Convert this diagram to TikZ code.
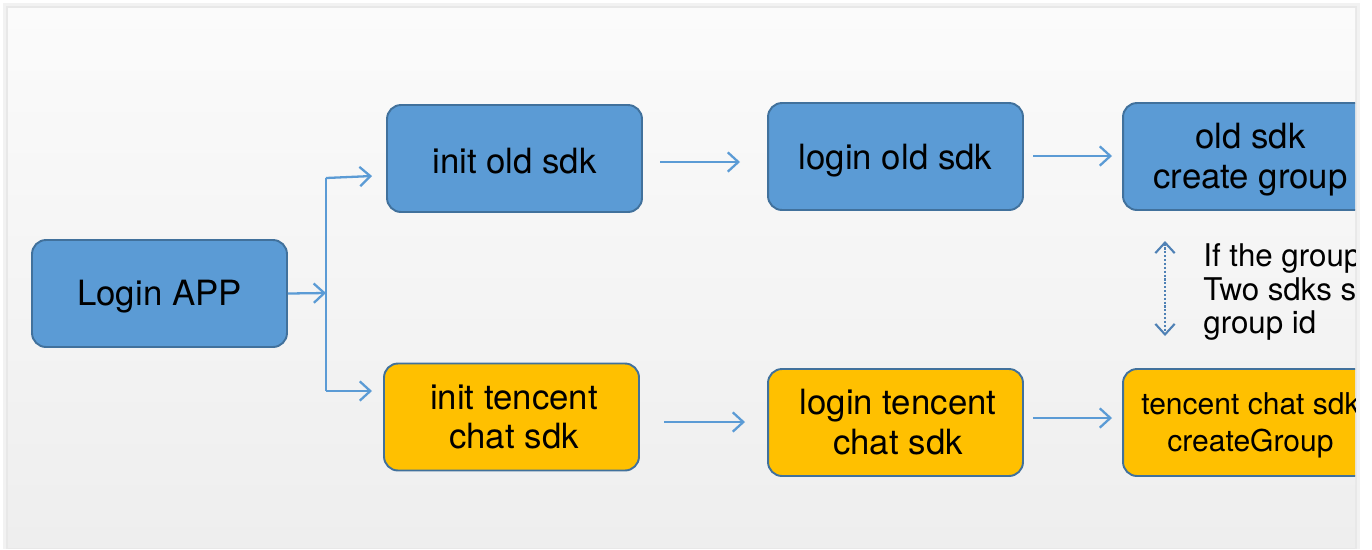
\documentclass[tikz,border=0pt]{standalone}
\usepackage{fontspec}
\setmainfont{TeX Gyre Heros}
\usetikzlibrary{arrows.meta}
\definecolor{bluefill}{HTML}{5B9BD5}
\definecolor{blueedge}{HTML}{41719C}
\definecolor{goldfill}{HTML}{FFC000}
\definecolor{arrowblue}{HTML}{5B9BD5}
\definecolor{dotblue}{HTML}{4F81B5}
\tikzset{
  box/.style={draw=blueedge, line width=1.1pt, rounded corners=0.28cm,
    minimum width=5.1cm, minimum height=2.14cm, inner sep=0pt},
  bluebox/.style={box, fill=bluefill},
  goldbox/.style={box, fill=goldfill},
  lbl/.style={align=center, inner sep=0pt, font=\fontsize{19.8}{22.7}\selectfont},
  smalllbl/.style={align=center, inner sep=0pt, font=\fontsize{17.1}{21}\selectfont},
  tip/.style={Straight Barb[length=6pt,width=11pt,line width=1.3pt]},
  flow/.style={draw=arrowblue, line width=1.3pt, -{Straight Barb[length=6pt,width=11pt,line width=1.3pt]}},
  plain/.style={draw=arrowblue, line width=1.3pt},
  note/.style={align=left, anchor=west, inner sep=0pt, font=\fontsize{17.8}{19}\selectfont}
}
\begin{document}
\begin{tikzpicture}[x=0.02cm, y=-0.02cm]
\useasboundingbox (0,0) rectangle (1372,549);
\fill[white] (0,0) rectangle (1372,549);
% shadow
\fill[black!5] (3,3) rectangle (1360,549);
\fill[black!9] (6,6) rectangle (1357,549);
% panel gradient
\shade[top color={rgb,255:red,251;green,251;blue,251}, bottom color={rgb,255:red,238;green,238;blue,238}] (8,8) rectangle (1355,547);
\begin{scope}
\clip (8,8) rectangle (1355,547);
\node[bluebox] (app) at (159.5,293.5) {};
\node[lbl] (appt) at (159.5,297) {Login APP};
\node[bluebox] (initold) at (514.5,158.5) {};
\node[lbl] (initoldt) at (514.5,161.5) {init old sdk};
\node[bluebox] (loginold) at (895.5,156.5) {};
\node[lbl] (loginoldt) at (895.5,161) {login old sdk};
\node[bluebox] (createold) at (1250.5,156.5) {};
\node[lbl] (createoldt) at (1250.5,160) {old sdk\\create group};
\node[goldbox] (inittc) at (511.5,417) {};
\node[lbl] (inittct) at (514,417) {init tencent\\chat sdk};
\node[goldbox] (logintc) at (895.5,422.5) {};
\node[lbl] (logintct) at (898,422.5) {login tencent\\chat sdk};
\node[goldbox] (createtc) at (1250.5,422.5) {};
\node[smalllbl] (createtct) at (1250.5,425) {tencent chat sdk\\createGroup};
\coordinate (split) at (326,293);
\coordinate (top) at (326,178);
\coordinate (bot) at (326,391);
\draw[flow] (app.east) -- (split);
\draw[plain] (split) -- (top);
\draw[plain] (split) -- (bot);
\draw[flow] (top) -- (372,176);
\draw[flow] (bot) -- (372,391);
\coordinate (a1s) at (660,162);
\coordinate (a1e) at (740,162);
\draw[flow] (a1s) -- (a1e);
\coordinate (a2s) at (1033,156);
\coordinate (a2e) at (1112,156);
\draw[flow] (a2s) -- (a2e);
\coordinate (a3s) at (664,422);
\coordinate (a3e) at (745,422);
\draw[flow] (a3s) -- (a3e);
\coordinate (a4s) at (1033,418);
\coordinate (a4e) at (1112,418);
\draw[flow] (a4s) -- (a4e);
\coordinate (du) at (1165,241);
\coordinate (dd) at (1165,336);
\draw[draw=dotblue, line width=1.2pt, densely dotted, {Straight Barb[length=6pt,width=11pt,line width=1.2pt]}-{Straight Barb[length=6pt,width=11pt,line width=1.2pt]}] (du) -- (dd);
\node[note] (txt) at (1203,292) {If the group\\Two sdks store\\group id};
\end{scope}
\end{tikzpicture}
\end{document}
